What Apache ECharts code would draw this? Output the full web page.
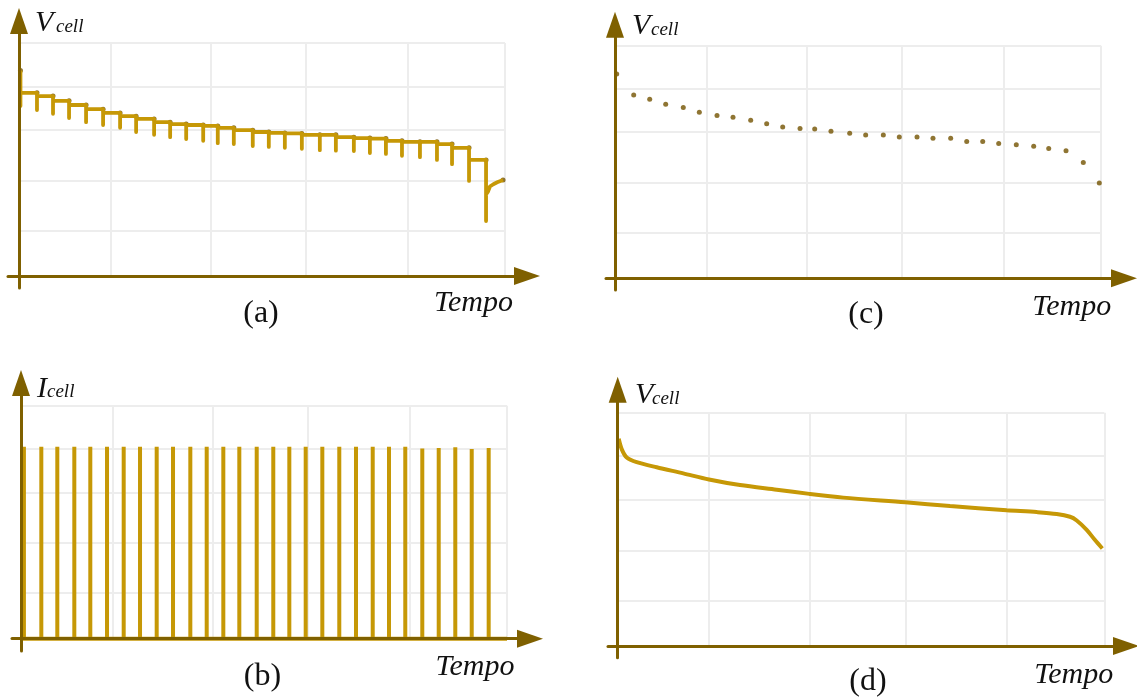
<!DOCTYPE html>
<html><head><meta charset="utf-8">
<script src="https://cdn.jsdelivr.net/npm/echarts@6/dist/echarts.min.js"></script>
<style>html,body{margin:0;padding:0;background:#fff}#c{width:1137px;height:697px}</style>
</head><body><div id="c"></div>
<script>
// ---------- data (normalised time 0..100, value 0..5) ----------
// (a) cell voltage under pulsed discharge: rest points, pulse minima, final recovery
const aDotT = [0.3,3.7,7.0,10.3,13.8,17.3,20.8,24.1,27.8,31.1,34.4,37.9,40.9,44.2,48.1,51.4,54.7,58.2,61.9,65.2,68.9,72.2,75.5,78.8,82.5,86.0,89.1,92.6,96.1,99.6];
const aDotV = [4.41,3.93,3.86,3.76,3.67,3.58,3.50,3.43,3.37,3.30,3.26,3.24,3.22,3.18,3.13,3.09,3.07,3.06,3.03,3.03,2.98,2.96,2.95,2.90,2.88,2.88,2.83,2.75,2.49,2.06];
const aLowV = [3.65,3.56,3.48,3.39,3.30,3.24,3.18,3.09,3.03,2.98,2.94,2.90,2.85,2.83,2.79,2.77,2.75,2.73,2.70,2.69,2.68,2.64,2.62,2.58,2.55,2.49,2.40,2.04,1.18];
const aTailT = [96.1,96.5,96.9,97.6,98.4,99.6];
const aTailV = [1.75,1.81,1.92,1.97,2.01,2.06];
// (b) current pulses
const bT = [0.6,4.18,7.47,10.97,14.26,17.70,21.13,24.49,27.92,31.28,34.84,38.21,41.63,44.92,48.50,51.91,55.21,58.58,62.0,65.49,68.93,72.37,75.72,79.07,82.57,85.95,89.36,92.74,96.23];
const bI = [4.12,4.12,4.12,4.12,4.12,4.12,4.12,4.12,4.12,4.12,4.12,4.12,4.12,4.12,4.12,4.12,4.12,4.12,4.12,4.12,4.12,4.12,4.12,4.12,4.08,4.09,4.11,4.07,4.09];
// (c) rest voltage points
const cT = [0.35,3.85,7.14,10.43,14.05,17.35,20.99,24.28,27.92,31.21,34.51,38.07,41.09,44.44,48.29,51.58,55.21,58.50,62.14,65.43,69.07,72.37,75.66,78.95,82.57,86.15,89.24,92.80,96.36,99.65];
const cV = [4.39,3.94,3.85,3.74,3.67,3.57,3.50,3.46,3.40,3.32,3.25,3.22,3.21,3.16,3.12,3.08,3.08,3.04,3.04,3.01,3.01,2.94,2.94,2.90,2.87,2.84,2.79,2.74,2.49,2.05];
// (d) continuous discharge curve
const dT = [0.21,0.82,1.85,3.90,8.01,13.48,18.76,25.13,32.68,39.38,46.36,59.10,68.29,79.94,86.11,90.22,92.95,94.33,96.38,98.09,99.59];
const dV = [4.44,4.22,4.04,3.94,3.83,3.70,3.57,3.45,3.35,3.26,3.18,3.08,3.00,2.91,2.87,2.83,2.77,2.69,2.49,2.27,2.09];
// background grid lines (same normalised units)
const gridCols = [18.8,39.4,59.1,80.0,100];
const gridRows = [0.98,2.05,3.14,4.07,5];
const panelLetters = ['(a)','(b)','(c)','(d)'];
const yNames = [['V','cell'],['I','cell'],['V','cell'],['V','cell']];
const xName = 'Tempo';

// ---------- layout ----------
const GOLD = '#C69806', AXIS = '#7F6000', DOT = '#735300', GRIDC = '#EDEDED';
const ARW_LEN = 26, ARW_W = 18;
const PANELS = [
  {ox:19,    oy:276,   right:505,    top:43,    xL:8,   xTip:540,  yB:288,   yTip:8,
   vX:35, cX:56, nameY:31, tX:473.5, tY:311, lX:261, lY:321.7},
  {ox:21,    oy:638.7, right:507,    top:405.7, xL:12,  xTip:543,  yB:651,   yTip:370,
   vX:37, cX:47, nameY:396.7, tX:475, tY:675, lX:262.5, lY:685},
  {ox:615,   oy:278.3, right:1101,   top:45.7,  xL:606, xTip:1137, yB:290,   yTip:11.7,
   vX:632, cX:651, nameY:34.3, tX:1071.7, tY:315, lX:866, lY:323},
  {ox:617.7, oy:646,   right:1104.3, top:412.7, xL:608, xTip:1139, yB:657.7, yTip:376.7,
   vX:635, cX:652, nameY:403.3, tX:1073.8, tY:683.3, lX:868, lY:690}
];

const grids = [], xAxes = [], yAxes = [], graphics = [];
PANELS.forEach((p, i) => {
  const sx = (p.right - p.ox) / 100, sy = (p.oy - p.top) / 5;
  // grid A: light background grid
  grids.push({left:p.ox, top:p.top, width:p.right - p.ox, height:p.oy - p.top, outerBoundsMode:'none'});
  xAxes.push({gridIndex:2*i, type:'value', min:0, max:100, axisLine:{show:false},
    axisTick:{show:false, customValues:gridCols}, axisLabel:{show:false, customValues:gridCols},
    splitLine:{show:true, lineStyle:{color:GRIDC, width:2}}});
  yAxes.push({gridIndex:2*i, type:'value', min:0, max:5, axisLine:{show:false},
    axisTick:{show:false, customValues:gridRows}, axisLabel:{show:false, customValues:gridRows},
    splitLine:{show:true, lineStyle:{color:GRIDC, width:2}}});
  // grid B: data + arrow axes
  const xR = p.xTip - ARW_LEN/2, yT = p.yTip + ARW_LEN/2;
  grids.push({left:p.xL, top:yT, width:xR - p.xL, height:p.yB - yT, outerBoundsMode:'none'});
  const axLine = {show:true, onZero:true, symbol:['none','triangle'], symbolSize:[ARW_W, ARW_LEN],
    lineStyle:{color:AXIS, width:3}};
  xAxes.push({gridIndex:2*i+1, type:'value', min:(p.xL - p.ox)/sx, max:(xR - p.ox)/sx, z:5,
    axisLine:axLine, axisTick:{show:false}, axisLabel:{show:false}, splitLine:{show:false}});
  yAxes.push({gridIndex:2*i+1, type:'value', min:-(p.yB - p.oy)/sy, max:(p.oy - yT)/sy, z:5,
    axisLine:axLine, axisTick:{show:false}, axisLabel:{show:false}, splitLine:{show:false}});
  // texts
  const serif = '"Liberation Serif"';
  const dy = 2;
  graphics.push({type:'text', x:p.vX, y:p.nameY - 9.9 + dy, style:{text:yNames[i][0], font:'italic 30px ' + serif, fill:'#111', align:'left', verticalAlign:'middle'}});
  graphics.push({type:'text', x:p.cX, y:p.nameY - 6.3 + dy, style:{text:yNames[i][1], font:'italic 19px ' + serif, fill:'#111', align:'left', verticalAlign:'middle'}});
  graphics.push({type:'text', x:p.tX, y:p.tY - 9.9 + dy, style:{text:xName, font:'italic 30px ' + serif, fill:'#111', align:'center', verticalAlign:'middle'}});
  graphics.push({type:'text', x:p.lX, y:p.lY - 10.6 + dy, style:{text:panelLetters[i], font:'32px ' + serif, fill:'#111', align:'center', verticalAlign:'middle'}});
});

// ---------- series ----------
const aPath = [];
for (let i = 0; i < aDotT.length - 1; i++) {
  aPath.push([aDotT[i], aDotV[i]]);
  aPath.push([aDotT[i], aLowV[i]]);
  if (i < aDotT.length - 2) aPath.push([aDotT[i], aDotV[i + 1]]);
}
aTailT.forEach((t, k) => aPath.push([t, aTailV[k]]));

const bPath = [[0, 0]];
bT.forEach((t, i) => { bPath.push([t, 0], [t, bI[i]], [t, 0]); });
bPath.push([100, 0]);

const series = [
  {type:'line', xAxisIndex:1, yAxisIndex:1, data:aPath, showSymbol:false, symbol:'none',
   lineStyle:{color:GOLD, width:3.8, join:'round'}},
  {type:'scatter', xAxisIndex:1, yAxisIndex:1, data:aDotT.map((t, i) => [t, aDotV[i]]),
   symbolSize:5, itemStyle:{color:DOT}},
  {type:'line', xAxisIndex:3, yAxisIndex:3, data:bPath, showSymbol:false, symbol:'none',
   lineStyle:{color:GOLD, width:4, join:'bevel'}},
  {type:'scatter', xAxisIndex:5, yAxisIndex:5, data:cT.map((t, i) => [t, cV[i]]),
   symbolSize:5, itemStyle:{color:DOT}},
  {type:'line', xAxisIndex:7, yAxisIndex:7, data:dT.map((t, i) => [t, dV[i]]), showSymbol:false, symbol:'none',
   smooth:0.3, lineStyle:{color:GOLD, width:4}}
];

const chart = echarts.init(document.getElementById('c'), null, {renderer:'canvas'});
chart.setOption({animation:false, backgroundColor:'#fff', grid:grids, xAxis:xAxes, yAxis:yAxes,
  series:series, graphic:graphics});
</script></body></html>
